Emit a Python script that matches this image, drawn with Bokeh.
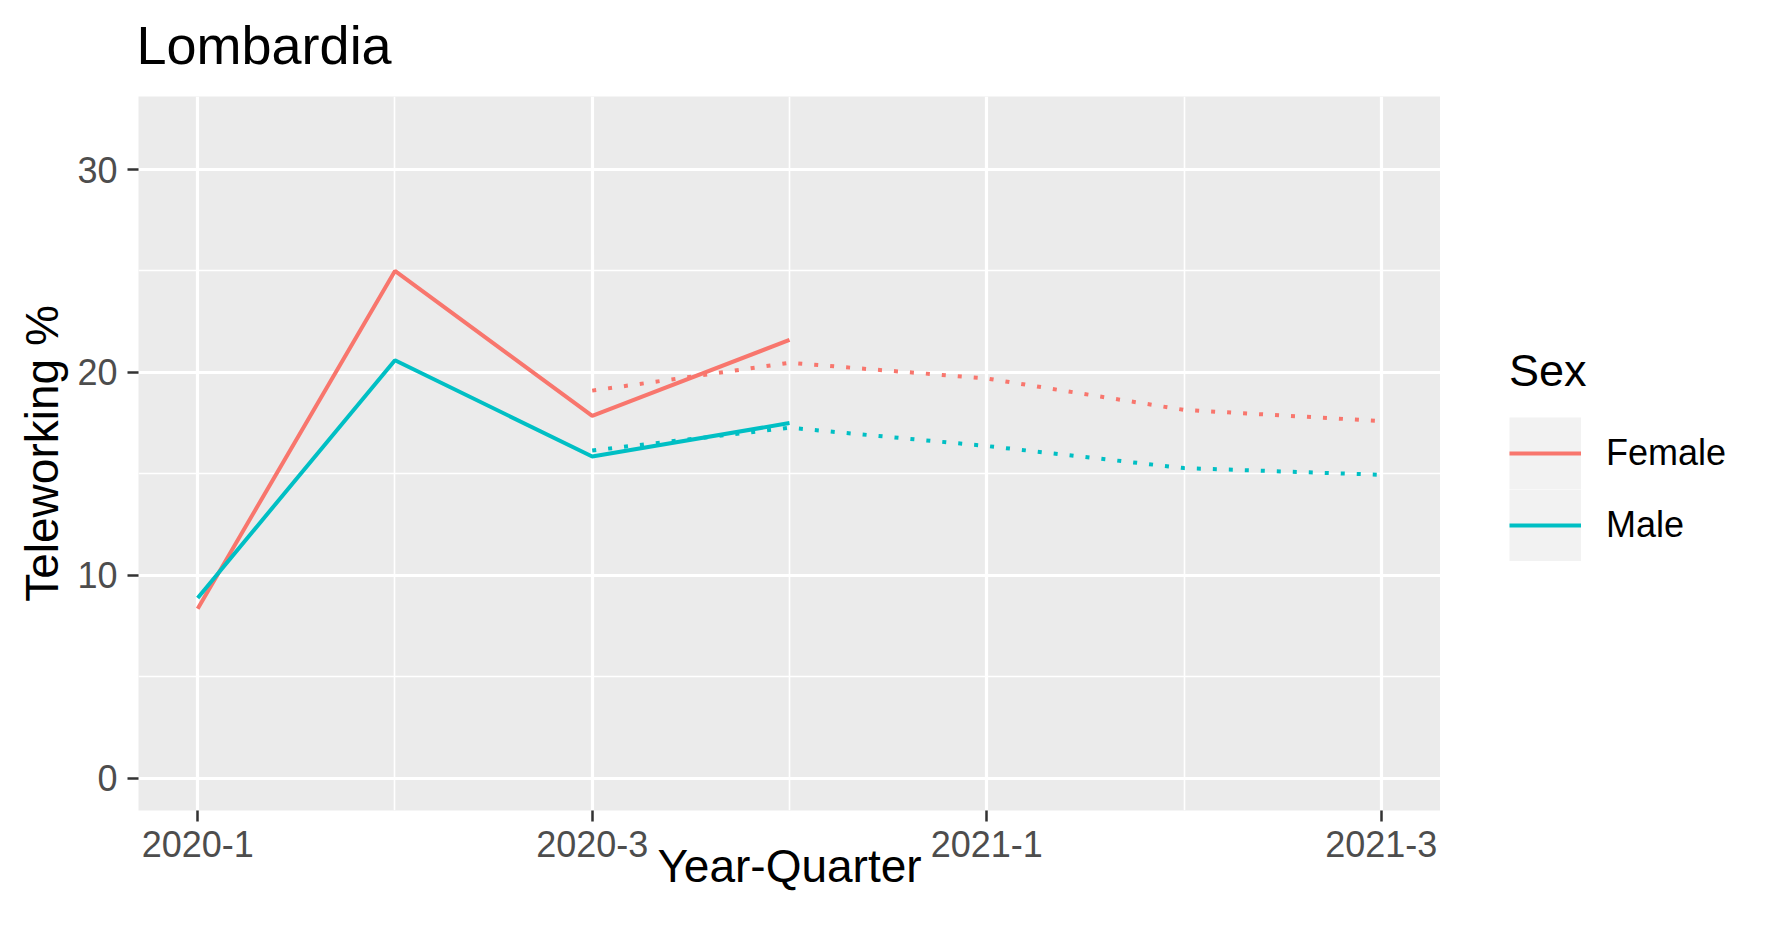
from bokeh.plotting import figure
from bokeh.layouts import row, column
from bokeh.models import (Range1d, FixedTicker, Legend, LegendItem, ColumnDataSource)
from bokeh.core.properties import value
from bokeh.embed import file_html
from bokeh.resources import INLINE

# ---- data ----
chart_title = "Lombardia"
quarter_labels = ["2020-1", "2020-2", "2020-3", "2020-4", "2021-1", "2021-2", "2021-3"]
obs_idx = [0, 1, 2, 3]
female_obs = [8.35, 25.0, 17.85, 21.6]
male_obs = [8.88, 20.6, 15.85, 17.5]
trend_idx = [2, 3, 4, 5, 6]
female_trend = [19.1, 20.47, 19.7, 18.15, 17.6]
male_trend = [16.15, 17.27, 16.37, 15.28, 14.95]
major_x = [0, 2, 4, 6]
minor_x = [1, 3, 5]
major_y = [0, 10, 20, 30]
minor_y = [5, 15, 25]
sex_labels = ["Female", "Male"]

FEMALE = "#F8766D"
MALE = "#00BFC4"
FONT = "Liberation Sans"
LW = 4

TITLE_H = 80
MAIN_H = 848
BORDER_BOTTOM = 118

# ---- title strip ----
tf = figure(width=1755, height=TITLE_H, min_border_left=134, min_border_right=0,
            min_border_top=0, min_border_bottom=0,
            x_range=Range1d(0, 1755 - 134), y_range=Range1d(0, TITLE_H),
            x_axis_location=None, y_axis_location=None,
            output_backend="svg", toolbar_location=None, tools="")
tf.grid.visible = False
tf.outline_line_color = None
tf.background_fill_color = "white"
tf.border_fill_color = "white"
tf.text(x=[2], y=[36], text=[chart_title], text_font=value(FONT), text_font_size="54px",
        text_color="black", text_align="left", text_baseline="alphabetic")

# ---- main plot ----
p = figure(width=1440, height=MAIN_H,
           min_border_left=138, min_border_right=0, min_border_top=16, min_border_bottom=BORDER_BOTTOM,
           x_range=Range1d(-0.3, 6.3), y_range=Range1d(-1.6, 33.6),
           output_backend="svg", toolbar_location=None, tools="")

p.background_fill_color = "#EBEBEB"
p.border_fill_color = "white"
p.outline_line_color = None

# axes
p.xaxis.ticker = FixedTicker(ticks=major_x, minor_ticks=minor_x)
p.yaxis.ticker = FixedTicker(ticks=major_y, minor_ticks=minor_y)
p.xaxis.major_label_overrides = {i: quarter_labels[i] for i in major_x}
for ax in (p.xaxis[0], p.yaxis[0]):
    ax.axis_line_color = None
    ax.major_tick_line_color = "#333333"
    ax.major_tick_line_width = 2.5
    ax.major_tick_out = 11
    ax.major_tick_in = 0
    ax.minor_tick_out = 0
    ax.minor_tick_in = 0
    ax.major_label_text_font = FONT
    ax.major_label_text_font_size = "36px"
    ax.major_label_text_color = "#4D4D4D"
    ax.axis_label_text_font = FONT
    ax.axis_label_text_font_size = "46px"
    ax.axis_label_text_font_style = "normal"
    ax.axis_label_text_color = "black"
p.xaxis.axis_label = "Year-Quarter"
p.yaxis.axis_label = "Teleworking %"
p.xaxis.major_label_standoff = 9
p.xaxis.axis_label_standoff = -20
p.yaxis.major_label_standoff = 10
p.yaxis.axis_label_standoff = 6

# grid
for g in (p.xgrid[0], p.ygrid[0]):
    g.grid_line_color = "white"
    g.grid_line_width = 3.2
    g.minor_grid_line_color = "white"
    g.minor_grid_line_width = 1.6
p.xgrid.ticker = p.xaxis.ticker
p.ygrid.ticker = p.yaxis.ticker

# lines
src_obs = ColumnDataSource(dict(x=obs_idx, f=female_obs, m=male_obs))
src_tr = ColumnDataSource(dict(x=trend_idx, f=female_trend, m=male_trend))

p.line("x", "f", source=src_tr, line_color=FEMALE, line_width=LW, line_dash="4 12")
p.line("x", "m", source=src_tr, line_color=MALE, line_width=LW, line_dash="4 12")
p.line("x", "f", source=src_obs, line_color=FEMALE, line_width=LW)
p.line("x", "m", source=src_obs, line_color=MALE, line_width=LW)

# ---- legend panel (separate figure to the right, no axes) ----
lg = figure(width=315, height=MAIN_H, min_border=0, x_range=Range1d(0, 1), y_range=Range1d(0, 1),
            x_axis_location=None, y_axis_location=None,
            output_backend="svg", toolbar_location=None, tools="")
lg.grid.visible = False
lg.outline_line_color = None
lg.background_fill_color = "white"
lg.border_fill_color = "white"

# swatch renderers for the legend only (their data lie outside the visible range)
key_bg = lg.line(x=[10, 11], y=[10, 10], line_color="#F2F2F2", line_width=72)
kf = lg.line(x=[10, 11], y=[10, 10], line_color=FEMALE, line_width=LW)
km = lg.line(x=[10, 11], y=[10, 10], line_color=MALE, line_width=LW)

legend = Legend(items=[LegendItem(label=sex_labels[0], renderers=[key_bg, kf]),
                       LegendItem(label=sex_labels[1], renderers=[key_bg, km])],
                location=(69, 249), margin=0, padding=0, spacing=0,
                glyph_width=72, glyph_height=72, label_standoff=25,
                label_text_font=FONT, label_text_font_size="36px", label_text_color="black",
                title="Sex", title_text_font=FONT, title_text_font_size="45px",
                title_text_font_style="normal", title_text_color="black", title_standoff=20,
                border_line_color=None, background_fill_color="white", background_fill_alpha=0)
lg.add_layout(legend)

layout = column(tf, row(p, lg, spacing=0), spacing=0)
open("out.html", "w").write(file_html(layout, INLINE))
